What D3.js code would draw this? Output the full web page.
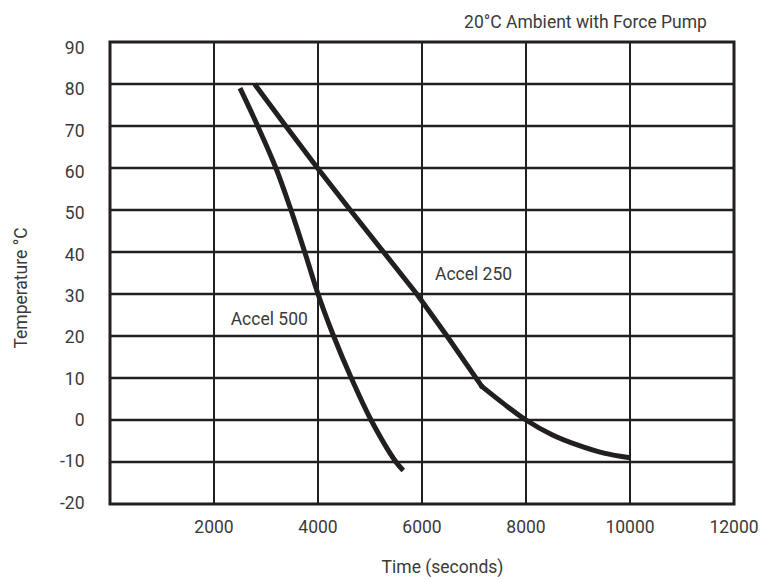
<!DOCTYPE html>
<html>
<head>
<meta charset="utf-8">
<script src="https://cdn.jsdelivr.net/npm/d3@7"></script>
<style>
  body { margin: 0; background: #fff; }
  svg { display: block; }
  text { font-family: Roboto, "Liberation Sans", sans-serif; font-weight: 400; fill: #3a3a3a; }
</style>
</head>
<body>
<svg id="chart" width="765" height="579"></svg>
<script>
// data
const xTicks = [2000, 4000, 6000, 8000, 10000, 12000];
const yTicks = [90, 80, 70, 60, 50, 40, 30, 20, 10, 0, -10, -20];

const accel250 = [
  [2780, 80], [3380, 70], [3990, 60], [4620, 50], [5260, 40], [5900, 30],
  [6480, 20], [7150, 8], [7600, 3.6], [8000, 0], [8500, -3.5], [9000, -6],
  [9500, -7.9], [10000, -9]
];
const accel500 = [
  [2500, 79], [2840, 70], [3190, 60], [3480, 50], [3745, 40], [4000, 30],
  [4300, 20], [4640, 10], [5020, 0], [5500, -10], [5640, -12]
];
const labels = [
  {text: "Accel 250", t: 6250, v: 34.8},
  {text: "Accel 500", t: 2321, v: 24.1}
];
// time where the Accel 250 trace bends from a straight run into a curve
const bendAt = 7150;

const plotL = 110, plotR = 734, plotT = 42, plotB = 504;
const fs = 17.5;

const x = d3.scaleLinear().domain([0, 12000]).range([plotL, plotR]);
const y = d3.scaleLinear().domain([-20, 90]).range([plotB, plotT]);
// the tick labels in the source sit on a slightly tighter spacing than the grid
const yLab = d3.scaleLinear().domain([-20, 90]).range([502.5, 47.5]);

const svg = d3.select("#chart");

// grid
svg.append("g")
  .selectAll("line")
  .data(yTicks.filter(d => d > -20 && d < 90))
  .join("line")
  .attr("x1", plotL).attr("x2", plotR)
  .attr("y1", d => y(d)).attr("y2", d => y(d))
  .attr("stroke", "#231f20")
  .attr("stroke-width", 2.4);

svg.append("g")
  .selectAll("line")
  .data(xTicks.filter(d => d < 12000))
  .join("line")
  .attr("x1", d => x(d)).attr("x2", d => x(d))
  .attr("y1", plotT).attr("y2", plotB)
  .attr("stroke", "#231f20")
  .attr("stroke-width", 2);

// frame
svg.append("rect")
  .attr("x", plotL).attr("y", plotT)
  .attr("width", plotR - plotL).attr("height", plotB - plotT)
  .attr("fill", "none")
  .attr("stroke", "#231f20")
  .attr("stroke-width", 3);

// axis labels
svg.append("g")
  .selectAll("text")
  .data(yTicks)
  .join("text")
  .attr("x", 84.5)
  .attr("y", d => yLab(d) + 6.3)
  .attr("text-anchor", "end")
  .attr("font-size", fs)
  .text(d => d);

svg.append("g")
  .selectAll("text")
  .data(xTicks)
  .join("text")
  .attr("x", d => x(d))
  .attr("y", 533)
  .attr("text-anchor", "middle")
  .attr("font-size", fs)
  .text(d => d);

svg.append("text")
  .attr("x", 442.5)
  .attr("y", 573)
  .attr("text-anchor", "middle")
  .attr("font-size", fs)
  .text("Time (seconds)");

svg.append("text")
  .attr("transform", "translate(26.5,288) rotate(-90)")
  .attr("text-anchor", "middle")
  .attr("font-size", fs)
  .text("Temperature °C");

svg.append("text")
  .attr("x", 585.5)
  .attr("y", 28)
  .attr("text-anchor", "middle")
  .attr("font-size", fs)
  .text("20°C Ambient with Force Pump");

// curves
const smooth = d3.line()
  .x(d => x(d[0]))
  .y(d => y(d[1]))
  .curve(d3.curveCatmullRom.alpha(0.5));

const straight = d3.line()
  .x(d => x(d[0]))
  .y(d => y(d[1]));

const tail = d3.line()
  .x(d => x(d[0]))
  .y(d => y(d[1]))
  .curve(d3.curveMonotoneX);

const paths = [
  straight(accel250.filter(d => d[0] <= bendAt)),
  tail(accel250.filter(d => d[0] >= bendAt)),
  smooth(accel500)
];

svg.append("g")
  .selectAll("path")
  .data(paths)
  .join("path")
  .attr("d", d => d)
  .attr("fill", "none")
  .attr("stroke", "#231f20")
  .attr("stroke-width", 5)
  .attr("stroke-linejoin", "round");

// round dot to close the joint at the bend
svg.append("circle")
  .attr("cx", x(bendAt))
  .attr("cy", y(accel250.find(d => d[0] === bendAt)[1]))
  .attr("r", 2.5)
  .attr("fill", "#231f20");

svg.append("g")
  .selectAll("text")
  .data(labels)
  .join("text")
  .attr("x", d => x(d.t))
  .attr("y", d => y(d.v) + 6.2)
  .attr("font-size", fs)
  .text(d => d.text);
</script>
</body>
</html>
